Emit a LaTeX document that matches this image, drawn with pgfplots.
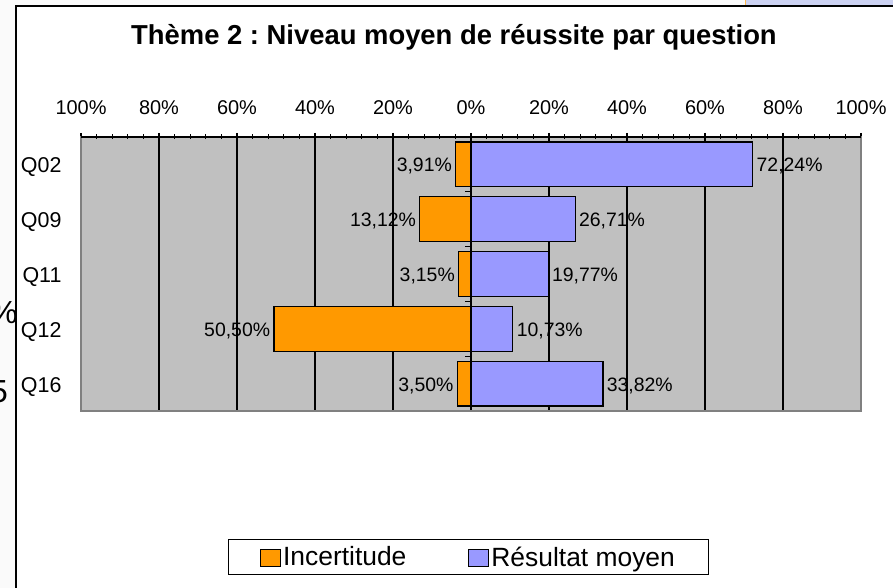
\documentclass[border=0pt]{standalone}
\usepackage{pgfplots}
\pgfplotsset{compat=1.18}
\usepackage{pgfplotstable}
\usepackage{fontspec}
\setmainfont{Liberation Sans}
\frenchspacing
\definecolor{orangeC}{HTML}{FF9900}
\definecolor{blueC}{HTML}{9999FF}
\definecolor{plotgray}{HTML}{C0C0C0}
\definecolor{bordergray}{HTML}{808080}
\definecolor{slideblue}{HTML}{CCD2F2}
\definecolor{outside}{HTML}{FAFAFA}

\pgfplotstableread{
pos inc inclab res reslab
0 -3.91 3,91 72.24 72,24
1 -13.12 13,12 26.71 26,71
2 -3.15 3,15 19.77 19,77
3 -50.50 50,50 10.73 10,73
4 -3.50 3,50 33.82 33,82
}\datatable

\begin{document}
\begin{tikzpicture}[x=1bp,y=1bp]
\useasboundingbox (0,0) rectangle (893,588);
\fill[outside] (0,0) rectangle (893,588);
\fill[white] (15.5,0) rectangle (893,581.5);
\fill[slideblue] (746,582.5) rectangle (893,588);
\draw[orangeC!70, line width=1.5bp] (745.5,582.5) -- (745.5,588);
\begin{scope}
\clip (0,0) rectangle (14.5,588);
\node[anchor=east, font=\fontsize{32}{36}\selectfont, inner sep=0] at (18,275) {\%};
\node[anchor=east, font=\fontsize{32}{36}\selectfont, inner sep=0] at (8,196) {5};
\end{scope}
\draw[black, line width=2bp] (15.5,0) -- (15.5,581.5) -- (893,581.5);
\node[anchor=base, font=\fontsize{27.5}{32}\selectfont\bfseries] at (454,543) {Thème 2 : Niveau moyen de réussite par question};
\begin{axis}[
  at={(81bp,177bp)}, anchor=south west, scale only axis,
  width=780bp, height=274bp,
  xmin=-100, xmax=100, ymin=-0.5, ymax=4.5, y dir=reverse,
  axis background/.style={fill=plotgray},
  axis line style={draw=none},
  xtick={-100,-80,...,100},
  xticklabels={100\%,80\%,60\%,40\%,20\%,0\%,20\%,40\%,60\%,80\%,100\%},
  minor x tick num=4,
  xtick pos=upper, xticklabel pos=upper,
  tick align=center,
  major tick length=8bp, minor tick length=5bp,
  every tick/.style={black, line width=1.2bp},
  xmajorgrids, major grid style={black, line width=1.3bp},
  xticklabel style={font=\fontsize{20}{24}\selectfont, yshift=15bp},
  ytick={0,1,2,3,4}, yticklabels={Q02,Q09,Q11,Q12,Q16},
  ytick pos=left, ytick style={draw=none},
  yticklabel style={font=\fontsize{21.5}{24}\selectfont, xshift=-12bp, yshift=-3bp},
  clip=false,
  legend columns=2,
  legend style={at={(0.4968,-0.533)}, anchor=center, draw=black, line width=1.5bp,
    font=\fontsize{26.5}{30}\selectfont, inner xsep=31.5bp, inner ysep=5bp,
    nodes={inner sep=2bp},
    /tikz/every even column/.append style={column sep=60bp}},
]
\addplot[xbar, bar width=0.82, bar shift=0pt, fill=orangeC, draw=black, line width=1.2bp,
  point meta=explicit symbolic,
  nodes near coords={\pgfplotspointmeta\%},
  every node near coord/.append style={anchor=east, font=\fontsize{19.5}{22}\selectfont, black, yshift=-2bp},
  legend image code/.code={\draw[fill=orangeC, draw=black, line width=1bp] (0bp,-9bp) rectangle (20bp,8bp);}]
  table[x=inc, y=pos, meta=inclab]{\datatable};
\addlegendentry{Incertitude}
\addplot[xbar, bar width=0.82, bar shift=0pt, fill=blueC, draw=black, line width=1.2bp,
  point meta=explicit symbolic,
  nodes near coords={\pgfplotspointmeta\%},
  every node near coord/.append style={anchor=west, font=\fontsize{19.5}{22}\selectfont, black, yshift=-2bp},
  legend image code/.code={\draw[fill=blueC, draw=black, line width=1bp] (0bp,-9bp) rectangle (20bp,8bp);}]
  table[x=res, y=pos, meta=reslab]{\datatable};
\addlegendentry{Résultat moyen}
\draw[black, line width=1.3bp] (axis cs:0,-0.5) -- (axis cs:0,4.5);
\pgfplotsinvokeforeach{-0.5,0.5,1.5,2.5,3.5,4.5}{
  \draw[black, line width=1.3bp] (axis cs:0,#1) -- ([xshift=-6bp]axis cs:0,#1);
}
\draw[bordergray, line width=2bp] (rel axis cs:0,0) rectangle (rel axis cs:1,1);
\draw[black, line width=1.5bp] (rel axis cs:0,1) -- (rel axis cs:1,1);
\end{axis}
\end{tikzpicture}
\end{document}
